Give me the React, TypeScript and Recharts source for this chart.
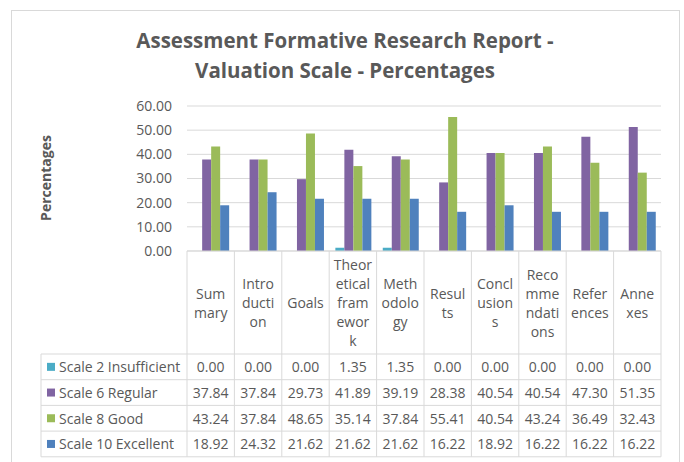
import React from 'react';
import { BarChart, Bar, XAxis, YAxis, CartesianGrid } from 'recharts';

const categories = ['Summary', 'Introduction', 'Goals', 'Theoretical framework', 'Methodology', 'Results', 'Conclusions', 'Recommendations', 'References', 'Annexes'];
// wrapped header text as shown in the data table
const headerLines = [
  ['Sum', 'mary'],
  ['Intro', 'ducti', 'on'],
  ['Goals'],
  ['Theor', 'etical', 'fram', 'ewor', 'k'],
  ['Meth', 'odolo', 'gy'],
  ['Resul', 'ts'],
  ['Concl', 'usion', 's'],
  ['Reco', 'mme', 'ndati', 'ons'],
  ['Refer', 'ences'],
  ['Anne', 'xes'],
];
const insufficient = [0, 0, 0, 1.35, 1.35, 0, 0, 0, 0, 0];
const regular = [37.84, 37.84, 29.73, 41.89, 39.19, 28.38, 40.54, 40.54, 47.3, 51.35];
const good = [43.24, 37.84, 48.65, 35.14, 37.84, 55.41, 40.54, 43.24, 36.49, 32.43];
const excellent = [18.92, 24.32, 21.62, 21.62, 21.62, 16.22, 18.92, 16.22, 16.22, 16.22];
const yTicks = [0, 10, 20, 30, 40, 50, 60];

const series = [
  { key: 'insufficient', name: 'Scale 2 Insufficient', color: '#4BACC6', values: insufficient },
  { key: 'regular', name: 'Scale 6 Regular', color: '#8064A2', values: regular },
  { key: 'good', name: 'Scale 8 Good', color: '#9BBB59', values: good },
  { key: 'excellent', name: 'Scale 10 Excellent', color: '#4F81BD', values: excellent },
];

const data = categories.map((c, i) => {
  const row: any = { name: c };
  series.forEach((s) => (row[s.key] = s.values[i]));
  return row;
});

const W = 684;
const H = 462;
const PLOT_LEFT = 187;
const PLOT_RIGHT = 661;
const TABLE_TOP = 251;
const HEADER_BOTTOM = 354;
const ROW_H = 25.7;
const LEGEND_LEFT = 41;
const LINE = '#D9D9D9';
const TEXT = '#595959';
const FONT = '"Open Sans", sans-serif';
const FS = 14;

const colW = (PLOT_RIGHT - PLOT_LEFT) / categories.length;

const TableColumn = (props: any) => {
  const { x, index } = props;
  const left = x - colW / 2;
  const bottom = HEADER_BOTTOM + ROW_H * series.length;
  const lines = headerLines[index] || [];
  const headMid = (TABLE_TOP + HEADER_BOTTOM) / 2;
  return (
    <g>
      <line x1={left} y1={TABLE_TOP} x2={left} y2={bottom} stroke={LINE} />
      {index === categories.length - 1 && (
        <line x1={left + colW} y1={TABLE_TOP} x2={left + colW} y2={bottom} stroke={LINE} />
      )}
      {lines.map((t, j) => (
        <text key={j} x={x} y={headMid + (j - (lines.length - 1) / 2) * 19} textAnchor="middle" dominantBaseline="central" fontSize={FS} fill={TEXT} fontFamily={FONT}>
          {t}
        </text>
      ))}
      {series.map((s, r) => (
        <text key={s.key} x={x} y={HEADER_BOTTOM + ROW_H * (r + 0.5)} textAnchor="middle" dominantBaseline="central" fontSize={FS} fill={TEXT} fontFamily={FONT}>
          {s.values[index].toFixed(2)}
        </text>
      ))}
      {index === 0 && (
        <g>
          <line x1={LEGEND_LEFT} y1={HEADER_BOTTOM} x2={LEGEND_LEFT} y2={bottom} stroke={LINE} />
          {[0, 1, 2, 3, 4].map((r) => (
            <line key={r} x1={LEGEND_LEFT} y1={HEADER_BOTTOM + ROW_H * r} x2={PLOT_RIGHT} y2={HEADER_BOTTOM + ROW_H * r} stroke={LINE} />
          ))}
          {series.map((s, r) => (
            <g key={s.key}>
              <rect x={47} y={HEADER_BOTTOM + ROW_H * (r + 0.5) - 4} width={8} height={8} fill={s.color} />
              <text x={59} y={HEADER_BOTTOM + ROW_H * (r + 0.5)} dominantBaseline="central" fontSize={FS} fill={TEXT} fontFamily={FONT}>
                {s.name}
              </text>
            </g>
          ))}
        </g>
      )}
    </g>
  );
};

export default function App() {
  return (
    <div style={{ position: 'absolute', left: 0, top: 0, width: W, height: H, background: '#fff', fontFamily: FONT }}>
      <div style={{ position: 'absolute', left: 11, top: 10, width: 669, height: 470, border: `1px solid ${LINE}`, boxSizing: 'border-box' }} />
      <BarChart width={W} height={H} data={data} margin={{ top: 106, right: W - PLOT_RIGHT, left: PLOT_LEFT - 60, bottom: 7 }} barCategoryGap="13%" barGap={0}>
        <CartesianGrid vertical={false} stroke={LINE} />
        <YAxis
          width={60}
          domain={[0, 60]}
          ticks={yTicks}
          axisLine={false}
          tickLine={false}
          tickSize={0}
          tickMargin={15}
          tick={{ fontSize: FS, fill: TEXT, fontFamily: FONT }}
          tickFormatter={(v) => Number(v).toFixed(2)}
        />
        <XAxis dataKey="name" height={204} interval={0} axisLine={{ stroke: LINE }} tickLine={false} tick={<TableColumn />} />
        {series.map((s) => (
          <Bar key={s.key} dataKey={s.key} name={s.name} fill={s.color} isAnimationActive={false} />
        ))}
      </BarChart>
      <svg width={W} height={H} style={{ position: 'absolute', left: 0, top: 0, pointerEvents: 'none' }}>
        <text x={345} y={40} textAnchor="middle" dominantBaseline="central" fontSize={20.5} fontWeight="bold" fill={TEXT} fontFamily={FONT}>
          Assessment Formative Research Report -
        </text>
        <text x={345} y={70} textAnchor="middle" dominantBaseline="central" fontSize={20.5} fontWeight="bold" fill={TEXT} fontFamily={FONT}>
          Valuation Scale - Percentages
        </text>
        <text x={45} y={178} transform="rotate(-90 45 178)" textAnchor="middle" dominantBaseline="central" fontSize={14} fontWeight="bold" fill={TEXT} fontFamily={FONT}>
          Percentages
        </text>
      </svg>
    </div>
  );
}
